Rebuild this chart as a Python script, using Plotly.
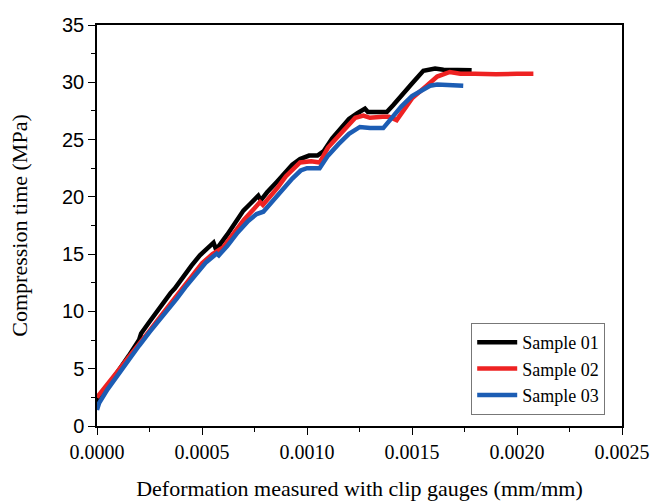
import plotly.graph_objects as go

# Sample 01 (black)
s1_x = [0, 0.5, 1.0, 1.5, 2.0, 2.1, 2.5, 3.0, 3.5, 3.7, 4.0, 4.5, 4.9, 5.3, 5.55, 5.65, 5.8, 6.2, 6.5, 6.97,
        7.3, 7.68, 7.8, 8.1, 8.56, 9.0, 9.3, 9.67, 10.1, 10.5, 10.8, 11.2, 11.6, 12.0, 12.4, 12.76, 12.9,
        13.3, 13.8, 14.1, 14.5, 15.0, 15.54, 16.1, 16.5, 17.0, 17.5, 17.84]
s1_y = [2.1, 3.4, 4.7, 6.1, 7.5, 8.07, 9.1, 10.4, 11.6, 12.0, 12.8, 14.0, 14.9, 15.6, 16.0, 15.5, 15.7, 16.7,
        17.5, 18.8, 19.4, 20.1, 19.7, 20.4, 21.3, 22.2, 22.8, 23.3, 23.6, 23.6, 24.0, 25.1, 26.0, 26.8, 27.3,
        27.7, 27.4, 27.4, 27.4, 28.0, 28.9, 29.9, 31.0, 31.2, 31.1, 31.1, 31.1, 31.05]

# Sample 02 (red)
s2_x = [0, 0.5, 1.0, 1.5, 2.0, 2.5, 3.0, 3.5, 3.79, 4.2, 4.6, 5.0, 5.5, 6.01, 6.5, 7.0, 7.5, 7.76, 7.9, 8.2,
        8.6, 9.0, 9.4, 9.67, 10.2, 10.6, 11.0, 11.57, 12.0, 12.3, 12.68, 13.0, 13.6, 13.9, 14.27, 14.6, 15.0,
        15.7, 16.2, 16.8, 17.3, 18.0, 19.0, 20.0, 20.78]
s2_y = [2.5, 3.6, 4.8, 6.0, 7.1, 8.3, 9.5, 10.7, 11.4, 12.4, 13.3, 14.2, 15.0, 15.6, 16.8, 18.0, 19.0, 19.55,
        19.3, 19.9, 20.8, 21.8, 22.6, 23.0, 23.1, 23.0, 24.3, 25.4, 26.3, 26.9, 27.1, 26.9, 27.0, 27.0, 26.7,
        27.6, 28.6, 29.7, 30.5, 30.9, 30.75, 30.75, 30.7, 30.75, 30.75]

# Sample 03 (blue)
s3_x = [0, 0.1, 0.5, 1.0, 1.5, 2.0, 2.5, 3.0, 3.5, 3.79, 4.2, 4.7, 5.2, 5.7, 5.8, 6.2, 6.7, 7.2, 7.6, 7.92,
        8.3, 8.8, 9.3, 9.7, 10.0, 10.6, 11.0, 11.5, 12.0, 12.52, 13.0, 13.63, 14.0, 14.5, 15.0, 15.86, 16.2,
        16.8, 17.44]
s3_y = [1.4, 2.0, 3.2, 4.5, 5.8, 7.0, 8.2, 9.3, 10.5, 11.1, 12.1, 13.2, 14.3, 15.05, 14.9, 15.7, 16.9, 17.9,
        18.5, 18.7, 19.5, 20.6, 21.6, 22.3, 22.5, 22.5, 23.6, 24.6, 25.5, 26.1, 26.0, 26.0, 26.8, 27.9, 28.8,
        29.7, 29.8, 29.75, 29.7]

names = ["Sample 01", "Sample 02", "Sample 03"]
colors = ["#000000", "#ee2222", "#1c5db4"]

fig = go.Figure()
for xs, ys, nm, c in zip([s1_x, s2_x, s3_x], [s1_y, s2_y, s3_y], names, colors):
    fig.add_trace(go.Scatter(x=[v * 1e-4 for v in xs], y=ys, mode="lines", name=nm,
                             line=dict(color=c, width=4.5)))

serif = "Liberation Serif, Times New Roman, serif"
sans = "Liberation Sans, Arial, sans-serif"

fig.update_layout(
    width=654, height=501,
    margin=dict(l=97, r=32, t=25, b=75),
    paper_bgcolor="white", plot_bgcolor="white",
    showlegend=True,
    legend=dict(x=0.968, y=0.257, xanchor="right", yanchor="top",
                bordercolor="#777777", borderwidth=1, bgcolor="white",
                font=dict(family=serif, size=18, color="black"),
                tracegroupgap=0, itemwidth=40),
    xaxis=dict(range=[0, 0.0025], dtick=0.0005, tick0=0, tickformat=".4f", automargin=False,
               showline=True, linecolor="black", linewidth=1.5, mirror=True,
               ticks="outside", ticklen=7, tickcolor="black", showgrid=False, zeroline=False,
               minor=dict(ticks="outside", ticklen=4, dtick=0.00025, tickcolor="black", showgrid=False),
               tickfont=dict(family=serif, size=20, color="black"),
               title=dict(text="Deformation measured with clip gauges (mm/mm)",
                          font=dict(family=serif, size=22, color="black"), standoff=22)),
    yaxis=dict(range=[0, 35], dtick=5, tick0=0, automargin=False,
               showline=True, linecolor="black", linewidth=1.5, mirror=True,
               ticks="outside", ticklen=7, tickcolor="black", showgrid=False, zeroline=False,
               minor=dict(ticks="outside", ticklen=4, dtick=2.5, tickcolor="black", showgrid=False),
               tickfont=dict(family=sans, size=20, color="black"),
               title=dict(text="Compression time (MPa)",
                          font=dict(family=serif, size=22, color="black"), standoff=28)),
)

fig.write_html("out.html")
